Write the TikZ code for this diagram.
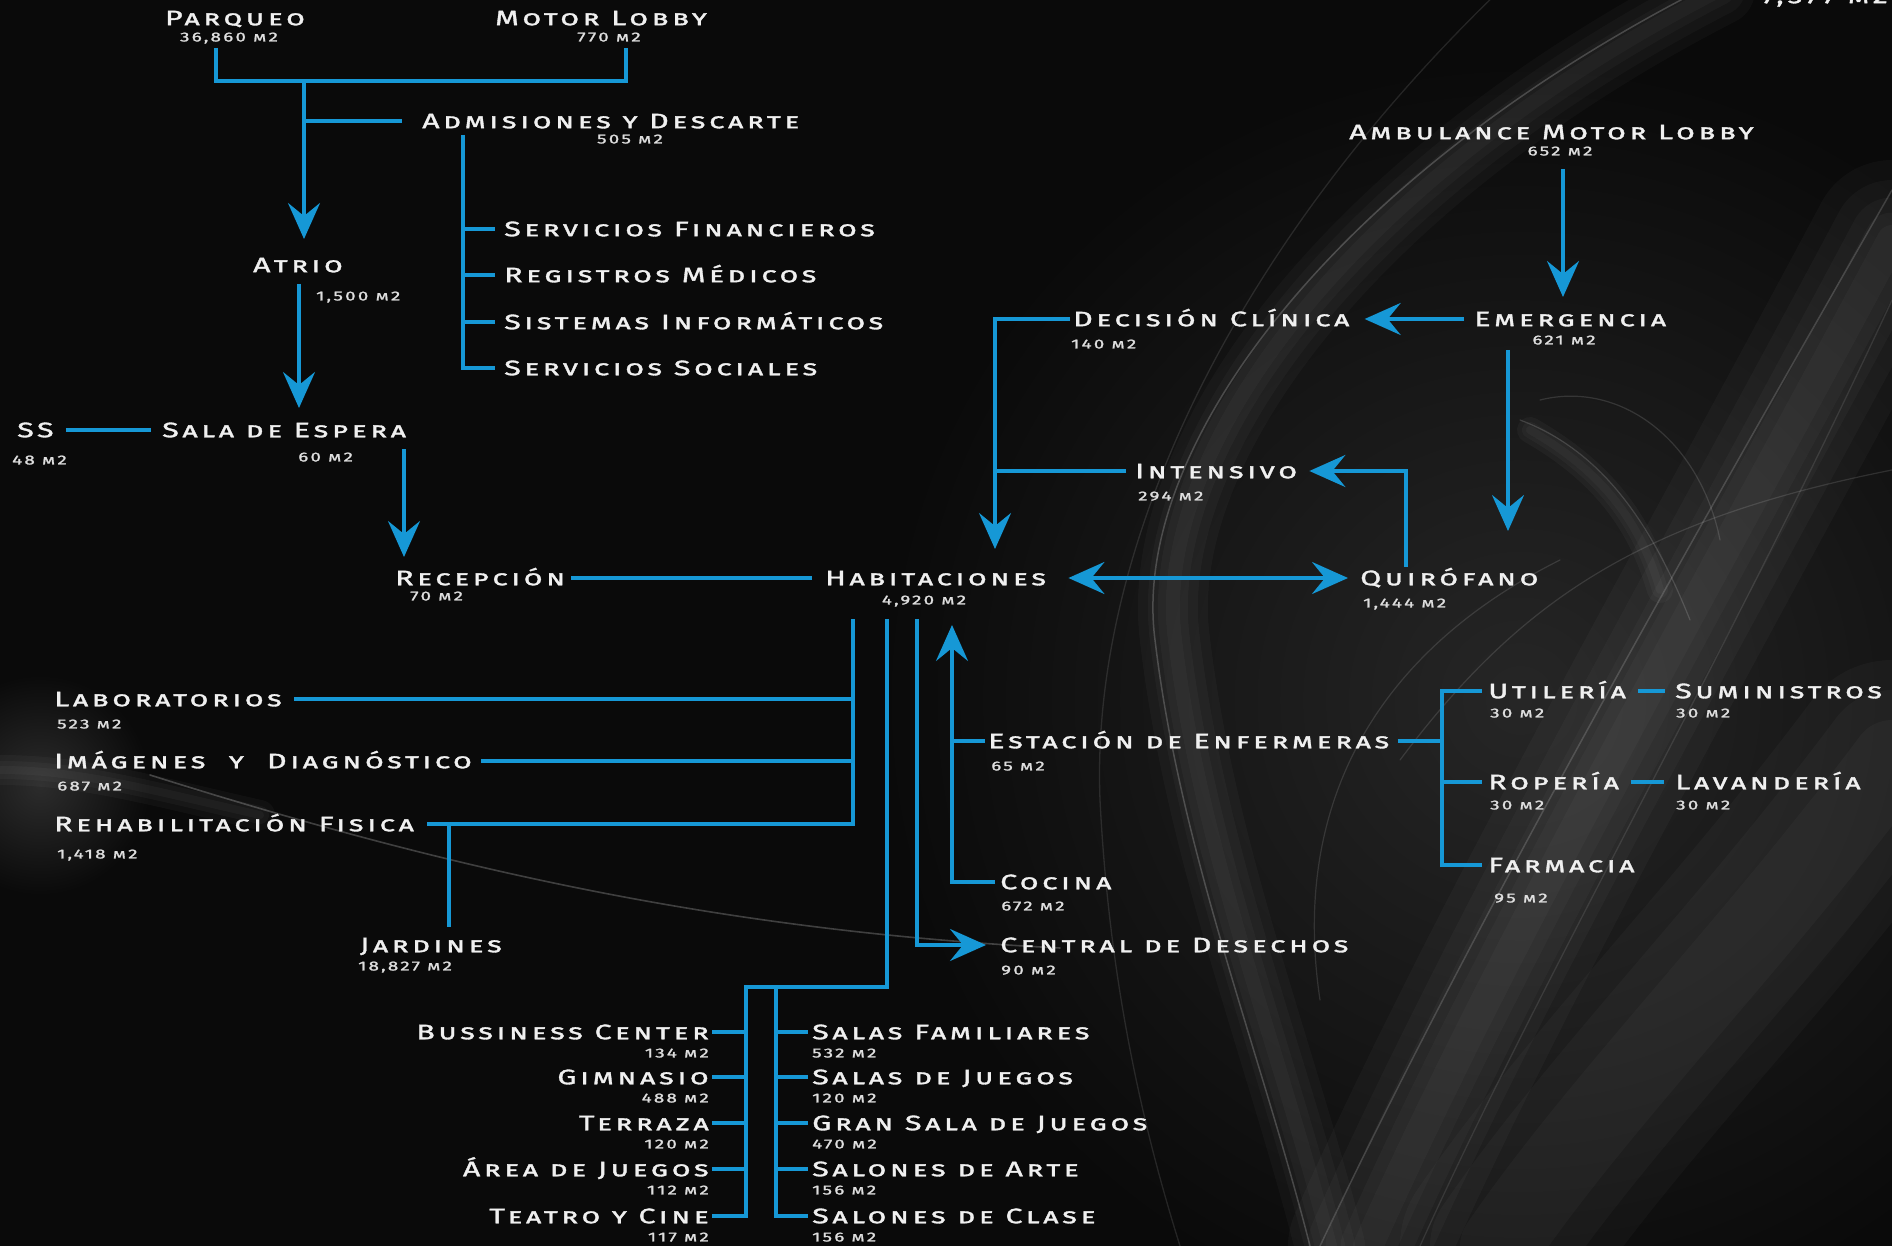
\documentclass[tikz,border=0pt]{standalone}
\usepackage{fontspec}
\usetikzlibrary{arrows.meta,calc}
\newfontfamily\lblfamily{Fira Sans}[Letters=SmallCaps,LetterSpace=17,FakeStretch=1.45,FakeBold=1.6]
\newcommand\lbltitle{\lblfamily\fontsize{21}{21}\selectfont}
\newcommand\lblarea{\lblfamily\fontsize{13}{13}\selectfont}
\definecolor{bgblack}{RGB}{10,10,10}
\definecolor{linkblue}{RGB}{22,152,214}
\definecolor{labelwhite}{RGB}{240,240,240}
\definecolor{areagrey}{RGB}{222,222,222}
\begin{document}
\begin{tikzpicture}[x=1pt,y=-1pt,
  title/.style={font=\lbltitle, text=labelwhite, inner sep=0pt, text height=14.5pt, text depth=0pt},
  area/.style={font=\lblarea, text=areagrey, inner sep=0pt, text height=8.9pt, text depth=0pt},
  link/.style={draw=linkblue, line width=3.6pt},
  flow/.style={link, -{Stealth[length=36pt,width=32pt,inset=13pt]}},
  twoway/.style={link, {Stealth[length=36pt,width=32pt,inset=13pt]}-{Stealth[length=36pt,width=32pt,inset=13pt]}},
  smoke/.style={draw=white, line cap=round}]
\useasboundingbox (0,0) rectangle (1892,1246);
\fill[bgblack] (0,0) rectangle (1892,1246);

% soft smoke in the background
\shade[inner color={rgb,255:red,38;green,38;blue,38}, outer color=bgblack] (1520,700) circle (640);
\shade[inner color={rgb,255:red,44;green,44;blue,44}, outer color=bgblack] (40,785) circle (110);
\begin{scope}[smoke]
  % large loop on the right, soft body and a thin rim
  \foreach \w in {70,50,30,14}
    \draw[opacity=0.026, line width=\w pt] (1720,-10) .. controls (1350,180) and (1150,450) .. (1175,640) .. controls (1200,850) and (1280,1050) .. (1330,1246);
  \draw[opacity=0.20, line width=1.5pt] (1700,-10) .. controls (1330,180) and (1130,450) .. (1155,640) .. controls (1180,850) and (1260,1050) .. (1310,1246);
  \draw[opacity=0.11, line width=1.3pt] (1500,-10) .. controls (1230,250) and (1090,550) .. (1100,800) .. controls (1110,1000) and (1150,1150) .. (1180,1246);
  % wide light band sweeping down to the bottom
  \foreach \w in {160,120,85,55,30}
    \draw[opacity=0.026, line width=\w pt] (1892,240) .. controls (1700,600) and (1500,950) .. (1368,1246);
  \draw[opacity=0.16, line width=1.5pt] (1892,190) .. controls (1680,560) and (1470,930) .. (1320,1246);
  \draw[opacity=0.10, line width=1.3pt] (1892,300) .. controls (1730,650) and (1540,980) .. (1420,1246);
  \foreach \w in {200,140,80}
    \draw[opacity=0.028, line width=\w pt] (1892,760) .. controls (1750,950) and (1600,1100) .. (1500,1246);
  % wisps around the emergency area
  \draw[opacity=0.15, line width=1.2pt] (1520,420) .. controls (1600,450) and (1650,520) .. (1690,620);
  \draw[opacity=0.13, line width=1.2pt] (1540,400) .. controls (1620,380) and (1700,440) .. (1720,540);
  \foreach \w in {26,16,8}
    \draw[opacity=0.03, line width=\w pt] (1530,430) .. controls (1600,470) and (1640,520) .. (1660,590);
  \draw[opacity=0.12, line width=1.2pt] (1320,1000) .. controls (1290,800) and (1380,650) .. (1560,560);
  \draw[opacity=0.12, line width=1.2pt] (1400,760) .. controls (1520,600) and (1640,520) .. (1892,470);
  % trail crossing the lower left
  \draw[opacity=0.22, line width=1.6pt] (150,775) .. controls (420,860) and (700,930) .. (1060,948);
  \foreach \w in {30,18,8}
    \draw[opacity=0.03, line width=\w pt] (0,770) .. controls (80,770) and (150,790) .. (260,815);
\end{scope}

% total area, cut by the top edge
\node[title, anchor=east] (total) at (1888,-4) {7,577 m2};

% entrance block
\node[title] (parqueo) at (235,18) {Parqueo};
\node[area] (parqueo-a) at (229,37) {36,860 m2};
\node[title] (motor) at (601,18) {Motor Lobby};
\node[area] (motor-a) at (609,37) {770 m2};
\node[title, anchor=west] (admis) at (422,121) {Admisiones y Descarte};
\node[area] (admis-a) at (630,139) {505 m2};
\node[title, anchor=west] (sfin) at (504,229) {Servicios Financieros};
\node[title, anchor=west] (regm) at (504,275) {Registros Médicos};
\node[title, anchor=west] (sinf) at (504,322) {Sistemas Informáticos};
\node[title, anchor=west] (ssoc) at (504,368) {Servicios Sociales};
\node[title] (atrio) at (298,265) {Atrio};
\node[area, anchor=west] (atrio-a) at (316,296) {1,500 m2};
\node[title, anchor=west] (ss) at (17,430) {SS};
\node[area, anchor=west] (ss-a) at (12,460) {48 m2};
\node[title, anchor=west] (espera) at (162,430) {Sala de Espera};
\node[area, anchor=west] (espera-a) at (298,457) {60 m2};
\node[title, anchor=west] (recep) at (395,578) {Recepción};
\node[area, anchor=west] (recep-a) at (410,596) {70 m2};

% core
\node[title, anchor=west] (hab) at (825,578) {Habitaciones};
\node[area] (hab-a) at (924,600) {4,920 m2};
\node[title, anchor=west] (quir) at (1360,578) {Quirófano};
\node[area, anchor=west] (quir-a) at (1363,603) {1,444 m2};
\node[title, anchor=west] (inten) at (1135,471) {Intensivo};
\node[area, anchor=west] (inten-a) at (1138,496) {294 m2};
\node[title, anchor=west] (decis) at (1073,319) {Decisión Clínica};
\node[area, anchor=west] (decis-a) at (1071,344) {140 m2};
\node[title, anchor=west] (emerg) at (1474,319) {Emergencia};
\node[area] (emerg-a) at (1564,340) {621 m2};
\node[title, anchor=west] (amb) at (1349,132) {Ambulance Motor Lobby};
\node[area] (amb-a) at (1560,151) {652 m2};

% diagnostics and therapy
\node[title, anchor=west] (lab) at (54,699) {Laboratorios};
\node[area, anchor=west] (lab-a) at (57,724) {523 m2};
\node[title, anchor=west] (imag) at (54,761) {Imágenes\ \ y\ \ Diagnóstico};
\node[area, anchor=west] (imag-a) at (57,786) {687 m2};
\node[title, anchor=west] (rehab) at (54,824) {Rehabilitación Fisica};
\node[area, anchor=west] (rehab-a) at (57,854) {1,418 m2};
\node[title] (jard) at (431,945) {Jardines};
\node[area, anchor=west] (jard-a) at (358,966) {18,827 m2};

% amenities
\foreach \n/\t/\a/\y in {bus/Bussiness Center/134/1032, gim/Gimnasio/488/1077,
    terr/Terraza/120/1123, area/Área de Juegos/112/1169, teatro/Teatro y Cine/117/1216}{
  \node[title, anchor=east] (\n) at (709,\y) {\t};
  \node[area, anchor=east] (\n-a) at (709,\y+21) {\a\ m2};
}
\foreach \n/\t/\a/\y in {sfam/Salas Familiares/532/1032, sjue/Salas de Juegos/120/1077,
    gsala/Gran Sala de Juegos/470/1123, sarte/Salones de Arte/156/1169, sclase/Salones de Clase/156/1216}{
  \node[title, anchor=west] (\n) at (812,\y) {\t};
  \node[area, anchor=west] (\n-a) at (812,\y+21) {\a\ m2};
}

% services
\node[title, anchor=west] (estac) at (988,741) {Estación de Enfermeras};
\node[area, anchor=west] (estac-a) at (991,766) {65 m2};
\node[title, anchor=west] (cocina) at (1000,882) {Cocina};
\node[area, anchor=west] (cocina-a) at (1001,906) {672 m2};
\node[title, anchor=west] (desech) at (1000,945) {Central de Desechos};
\node[area, anchor=west] (desech-a) at (1001,970) {90 m2};
\node[title, anchor=west] (util) at (1488,691) {Utilería};
\node[area, anchor=west] (util-a) at (1490,713) {30 m2};
\node[title, anchor=west] (sumin) at (1675,691) {Suministros};
\node[area, anchor=west] (sumin-a) at (1676,713) {30 m2};
\node[title, anchor=west] (ropa) at (1488,782) {Ropería};
\node[area, anchor=west] (ropa-a) at (1490,805) {30 m2};
\node[title, anchor=west] (lavan) at (1675,782) {Lavandería};
\node[area, anchor=west] (lavan-a) at (1676,805) {30 m2};
\node[title, anchor=west] (farm) at (1488,865) {Farmacia};
\node[area, anchor=west] (farm-a) at (1494,898) {95 m2};

% junction points
\coordinate (jP) at (216,48);
\coordinate (jM) at (626,48);
\coordinate (jT) at (304,81);
\coordinate (atrio-in) at (304,239);
\coordinate (jA) at (463,135);
\coordinate (atrio-out) at (299,284);
\coordinate (espera-in) at (299,408);
\coordinate (espera-out) at (404,449);
\coordinate (recep-in) at (404,557);
\coordinate (quir-up) at (1406,567);
\coordinate (jD) at (995,319);
\coordinate (hab-in) at (995,549);
\coordinate (amb-out) at (1563,169);
\coordinate (emerg-in) at (1563,297);
\coordinate (emerg-out) at (1508,350);
\coordinate (quir-in) at (1508,531);
\coordinate (hL) at (853,619);
\coordinate (hM) at (887,619);
\coordinate (hR) at (917,619);
\coordinate (hK) at (952,625);
\coordinate (jJ) at (449,824);
\coordinate (jard-in) at (449,927);
\coordinate (cL) at (746,987);
\coordinate (cR) at (776,987);
\coordinate (jE) at (1442,741);

% entrance connectors
\draw[link] (jP) |- (jM |- jT) -- (jM);
\draw[flow] (jT) -- (atrio-in);
\draw[link] (jT |- admis.west) -- ($(admis.west)+(-20,0)$);
\draw[link] (jA) |- ($(ssoc.west)+(-9,0)$);
\foreach \n in {sfin,regm,sinf}
  \draw[link] (jA |- \n.west) -- ($(\n.west)+(-9,0)$);
\draw[flow] (atrio-out) -- (espera-in);
\draw[link] ($(ss.east)+(12,0)$) -- ($(espera.west)+(-11,0)$);
\draw[flow] (espera-out) -- (recep-in);
\draw[link] ($(recep.east)+(6,0)$) -- ($(hab.west)+(-13,0)$);

% emergency and surgery
\draw[twoway] ($(hab.east)+(22,0)$) -- ($(quir.west)+(-12,0)$);
\draw[flow] (quir-up) |- ($(inten.east)+(12,0)$);
\draw[link] ($(inten.west)+(-9,0)$) -- (jD |- inten.west);
\draw[flow] ($(decis.west)+(-3,0)$) -- (jD) -- (hab-in);
\draw[flow] ($(emerg.west)+(-10,0)$) -- ($(decis.east)+(15,0)$);
\draw[flow] (amb-out) -- (emerg-in);
\draw[flow] (emerg-out) -- (quir-in);

% diagnostics
\draw[link] (hL) |- ($(rehab.east)+(13,0)$);
\draw[link] ($(lab.east)+(12,0)$) -- (hL |- lab.east);
\draw[link] ($(imag.east)+(9,0)$) -- (hL |- imag.east);
\draw[link] (jJ) -- (jard-in);

% amenities
\draw[link] (hM) |- (cL) -- (cL |- teatro.east) -- ($(teatro.east)+(3,0)$);
\foreach \n in {bus,gim,terr,area}
  \draw[link] ($(\n.east)+(3,0)$) -- (cL |- \n.east);
\draw[link] (cR) |- ($(sclase.west)+(-4,0)$);
\foreach \n in {sfam,sjue,gsala,sarte}
  \draw[link] (cR |- \n.west) -- ($(\n.west)+(-4,0)$);

% services
\draw[flow] (hR) |- ($(desech.west)+(-14,0)$);
\draw[flow] ($(cocina.west)+(-5,0)$) -| (hK);
\draw[link] ($(estac.west)+(-3,0)$) -- (hK |- estac.west);
\draw[link] ($(estac.east)+(8,0)$) -- (jE);
\draw[link] ($(util.west)+(-6,0)$) -- (jE |- util.west) -- (jE |- farm.west) -- ($(farm.west)+(-6,0)$);
\draw[link] (jE |- ropa.west) -- ($(ropa.west)+(-6,0)$);
\draw[link] ($(util.east)+(12,0)$) -- ($(sumin.west)+(-10,0)$);
\draw[link] ($(ropa.east)+(12,0)$) -- ($(lavan.west)+(-11,0)$);
\end{tikzpicture}
\end{document}
